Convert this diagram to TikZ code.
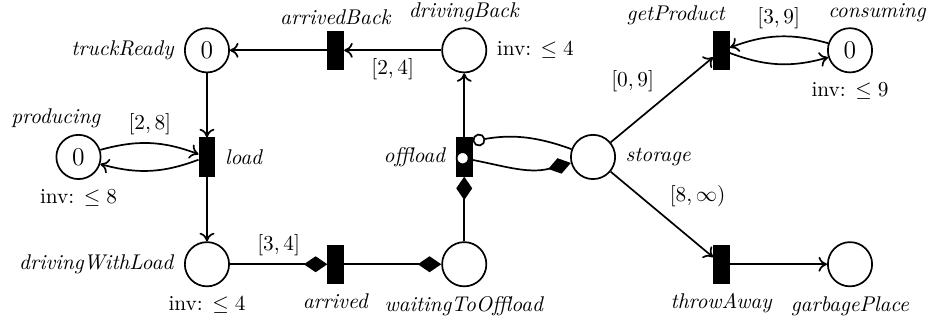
\documentclass[tikz,border=0pt]{standalone}
\usepackage{tikz}
\usepackage{amsmath, amssymb}
\usetikzlibrary{arrows.meta, positioning}
\tikzset{
  place/.style={circle, draw, thick, minimum size=7.3mm, inner sep=0pt, font=\large},
  transition/.style={rectangle, draw, thick, fill=black, minimum width=2.5mm, minimum height=6.2mm, inner sep=0pt},
  arc/.style={thick, -{To[length=4pt,width=7pt]}},
  transport/.style={thick, -{Diamond[length=11pt,width=7.5pt]}},
  inhibit/.style={thick, -{Circle[length=6pt,fill=white]}},
  every label/.style={label distance=1pt, font=\normalsize},
  tagup/.style 2 args={label={[label distance=-0.8pt, xshift=#1]above:\textit{#2}}}
}
\newcommand{\invle}[1]{inv: $\leq #1$}

\begin{document}
\begin{tikzpicture}
                \useasboundingbox (-1.295,2.59) rectangle (14.05,-2.69);

                % Places
                \node[place, tagup={-0.37cm}{producing}, label=below:\invle{8}] (producing) at (0,0) {$0$};
                \node[place, label=left:\textit{truckReady}] (truckReady) at (2.12,1.76) {$0$};
                \node[place, label=left:\textit{drivingWithLoad}, label=below:\invle{4}] (drivingWithLoad) at (2.12,-1.77) {};
                \node[place, tagup={0cm}{drivingBack}, label=right:\invle{4}] (drivingBack) at (6.365,1.76) {};
                \node[place, label=below:\textit{waitingToOffload}] (waitingToOffload) at (6.365,-1.77) {};
                \node[place, label=right:\textit{storage}] (storage) at (8.49,0) {};
                \node[place, tagup={0.45cm}{consuming}, label=below:\invle{9}] (consuming) at (12.73,1.76) {$0$};
                \node[place, label=below:\textit{garbagePlace}] (garbagePlace) at (12.73,-1.77) {};

                % Transitions
                \node[transition, label=right:\textit{load}] (load) at (2.12,0) {};
                \node[transition, tagup={0cm}{arrivedBack}] (arrivedBack) at (4.245,1.76) {};
                \node[transition, label=below:\textit{arrived}] (arrived) at (4.245,-1.77) {};
                \node[transition, label=left:\textit{offload}] (offload) at (6.365,0) {};
                \node[transition, tagup={-0.75cm}{getProduct}] (getProduct) at (10.61,1.76) {};
                \node[transition, label=below:\textit{throwAway}] (throwAway) at (10.61,-1.77) {};

                % Arcs
                \draw[arc] (truckReady) -- (load);
                \draw[arc] (load) -- (drivingWithLoad);
                \draw[arc] (producing) to[bend left=18] node[above] {$[2,8]$} (load);
                \draw[arc] (load) to[bend left=18] (producing);
                \draw[arc] (drivingBack) -- node[below] {$[2,4]$} (arrivedBack);
                \draw[arc] (arrivedBack) -- (truckReady);
                \draw[transport] (drivingWithLoad) -- node[above] {$[3,4]$} (arrived);
                \draw[transport] (arrived) -- (waitingToOffload);
                \draw[transport] (waitingToOffload) -- (offload);
                \draw[arc] (offload) -- (drivingBack);
                \draw[inhibit] (storage) to[out=160,in=10] (offload.62);
                \draw[thick, {Circle[length=6.5pt,fill=white]}-{Diamond[length=11pt,width=7.5pt]}] (offload.west) to[out=-10,in=195] (storage);
                \draw[arc] (storage) -- node[above left] {$[0,9]$} (getProduct);
                \draw[arc] (storage) -- node[above right] {$[8,\infty)$} (throwAway);
                \draw[arc] (consuming) to[bend right=18] node[above] {$[3,9]$} (getProduct);
                \draw[arc] (getProduct) to[bend right=18] (consuming);
                \draw[arc] (throwAway) -- (garbagePlace);
            \end{tikzpicture}
\end{document}
